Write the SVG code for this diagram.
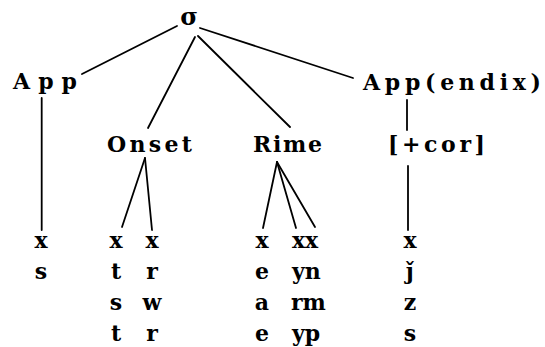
<svg xmlns="http://www.w3.org/2000/svg" width="545" height="347" viewBox="0 0 545 347">
<style>
text{font-family:"DejaVu Serif","Liberation Serif",serif;font-weight:bold;fill:#000}
.lab{font-size:22px}
.seg{font-size:22px;text-anchor:middle}
.segl{font-size:22px}
#connectors line{stroke:#000;stroke-width:1.8;stroke-linecap:round}
</style>
<rect width="545" height="347" fill="#fff"/>
<g id="connectors">
<line x1="177" y1="26" x2="82" y2="74"/>
<line x1="195" y1="37" x2="148" y2="128"/>
<line x1="198" y1="36" x2="290" y2="127"/>
<line x1="200" y1="28" x2="353" y2="78"/>
<line x1="41.7" y1="98" x2="41.7" y2="230"/>
<line x1="145" y1="158" x2="122" y2="227"/>
<line x1="145" y1="158" x2="152" y2="230"/>
<line x1="277" y1="162" x2="263" y2="228"/>
<line x1="277" y1="162" x2="296" y2="228"/>
<line x1="277" y1="162" x2="315" y2="227"/>
<line x1="407" y1="100" x2="407" y2="130"/>
<line x1="408" y1="166" x2="408" y2="230"/>
</g>
<g id="sigma"><text class="seg" x="189" y="25" style="font-size:24px">σ</text></g>
<g id="app"><text class="lab" x="13" y="89" textLength="64" lengthAdjust="spacing">App</text></g>
<g id="appendix"><text class="lab" x="363" y="90" textLength="178" lengthAdjust="spacing">App(endix)</text></g>
<g id="onset"><text class="lab" x="107" y="152" textLength="85" lengthAdjust="spacing">Onset</text></g>
<g id="rime"><text class="lab" x="253" y="152" textLength="69" lengthAdjust="spacing">Rime</text></g>
<g id="cor"><text class="lab" x="388" y="152" textLength="97" lengthAdjust="spacing">[+cor]</text></g>
<g id="col-app">
<text class="seg" x="41" y="248">x</text>
<text class="seg" x="41" y="279">s</text>
</g>
<g id="col-onset1">
<text class="seg" x="116" y="248">x</text>
<text class="seg" x="116" y="279">t</text>
<text class="seg" x="116" y="310">s</text>
<text class="seg" x="116" y="341">t</text>
</g>
<g id="col-onset2">
<text class="seg" x="152" y="248">x</text>
<text class="seg" x="152" y="279">r</text>
<text class="seg" x="152" y="310">w</text>
<text class="seg" x="152" y="341">r</text>
</g>
<g id="col-rime1">
<text class="seg" x="262" y="248">x</text>
<text class="seg" x="262" y="279">e</text>
<text class="seg" x="262" y="310">a</text>
<text class="seg" x="262" y="341">e</text>
</g>
<g id="col-rime2">
<text class="segl" x="292" y="248">xx</text>
<text class="segl" x="292" y="279">yn</text>
<text class="segl" x="291" y="310">rm</text>
<text class="segl" x="292" y="341">yp</text>
</g>
<g id="col-cor">
<text class="seg" x="410" y="248">x</text>
<text class="seg" x="410" y="279">ǰ</text>
<text class="seg" x="410" y="310">z</text>
<text class="seg" x="410" y="341">s</text>
</g>
</svg>
